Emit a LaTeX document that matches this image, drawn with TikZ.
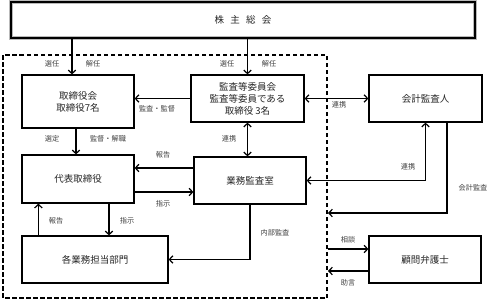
\documentclass[tikz,border=0pt]{standalone}
\usepackage{fontspec}
\setmainfont{Noto Sans CJK JP}
\usetikzlibrary{arrows.meta}
\begin{document}
\begin{tikzpicture}[x=1pt,y=-1pt,
  box/.style={draw=black,line width=1.2pt,rectangle,inner sep=0pt,
    font=\fontsize{9.5}{12}\selectfont,align=center,text=black!85},
  topbox/.style={box,preaction={draw=gray!55,line width=4pt},line width=1.8pt},
  lbl/.style={font=\fontsize{7.2}{8}\selectfont,text=black!75,inner sep=0pt},
  tip/.tip={Straight Barb[length=3.5pt,width=7.5pt]},
  arr/.style={line width=1.2pt,-tip},
  arrboth/.style={line width=1.2pt,tip-tip},
  ln/.style={line width=1.2pt}]
\useasboundingbox (0,0) rectangle (500,301);
% dashed company frame
\draw[line width=1.1pt,dash pattern=on 4.5pt off 2.5pt] (3,55) rectangle (327,298);
% nodes
\node[topbox,minimum width=464pt,minimum height=36pt] (agm) at (243,20)
  {株\hspace{0.65em}主\hspace{0.65em}総\hspace{0.65em}会};
\node[box,minimum width=112pt,minimum height=53pt] (board) at (78,101.5)
  {取締役会\\取締役7名};
\node[box,minimum width=113pt,minimum height=47pt] (audit) at (247.5,98.5)
  {監査等委員会\\監査等委員である\\取締役 3名};
\node[box,minimum width=113pt,minimum height=47pt] (acct) at (425.5,98.5)
  {会計監査人};
\node[box,minimum width=112pt,minimum height=48pt] (rep) at (78,179)
  {代表取締役};
\node[box,minimum width=112pt,minimum height=47pt] (office) at (250,180.5)
  {業務監査室};
\node[box,minimum width=146pt,minimum height=47pt] (dept) at (95,259.5)
  {各業務担当部門};
\node[box,minimum width=112pt,minimum height=47pt] (lawyer) at (425,259.5)
  {顧問弁護士};
% free ends on the dashed frame
\coordinate (acctin) at (328,213);
\coordinate (consout) at (328,249);
\coordinate (advin) at (328,271);
% connectors
\draw[arr] ([xshift=-6pt]board.north |- agm.south) -- ([xshift=-6pt]board.north);
\draw[arr] (audit.north |- agm.south) -- (audit.north);
\draw[arr] (audit.west) -- (audit.west -| board.east);
\draw[arrboth] (audit.east) -- (acct.west);
\draw[arrboth] (audit.south) -- (audit.south |- office.north);
\draw[arr] ([xshift=-2pt]board.south) -- ([xshift=-2pt]board.south |- rep.north);
\draw[arr] ([yshift=12.5pt]office.west) -- ([yshift=12.5pt]office.west -| rep.east);
\draw[arr] ([yshift=-13pt]rep.east) -- ([yshift=-13pt]rep.east -| office.west);
\draw[arr] ([xshift=17pt]dept.north west) -- ([xshift=17pt]rep.south west);
\draw[arr] ([xshift=31pt]rep.south) -- ([xshift=31pt]rep.south |- dept.north);
\draw[arr] (office.south) |- (dept.east);
\draw[arrboth] (office.east) -| (acct.south);
\draw[arr] ([xshift=21.5pt]acct.south) |- (acctin);
\draw[arr] (consout) -- (consout -| lawyer.west);
\draw[arr] (advin -| lawyer.west) -- (advin);
% labels
\node[lbl] (l1) at (52,64) {選任};
\node[lbl] (l2) at (93,64) {解任};
\node[lbl] (l3) at (227,64) {選任};
\node[lbl] (l4) at (269,64) {解任};
\node[lbl] (l5) at (157,109) {監査・監督};
\node[lbl] (l6) at (339,105) {連携};
\node[lbl] (l7) at (229,139) {連携};
\node[lbl] (l8) at (52,139) {選定};
\node[lbl] (l9) at (108,139) {監督・解職};
\node[lbl] (l10) at (163,155) {報告};
\node[lbl] (l11) at (163,204) {指示};
\node[lbl] (l12) at (56,221) {報告};
\node[lbl] (l13) at (127,221) {指示};
\node[lbl] (l14) at (275,233) {内部監査};
\node[lbl] (l15) at (408,167) {連携};
\node[lbl] (l16) at (473,188) {会計監査};
\node[lbl] (l17) at (348,240) {相談};
\node[lbl] (l18) at (348,283) {助言};
\end{tikzpicture}
\end{document}
